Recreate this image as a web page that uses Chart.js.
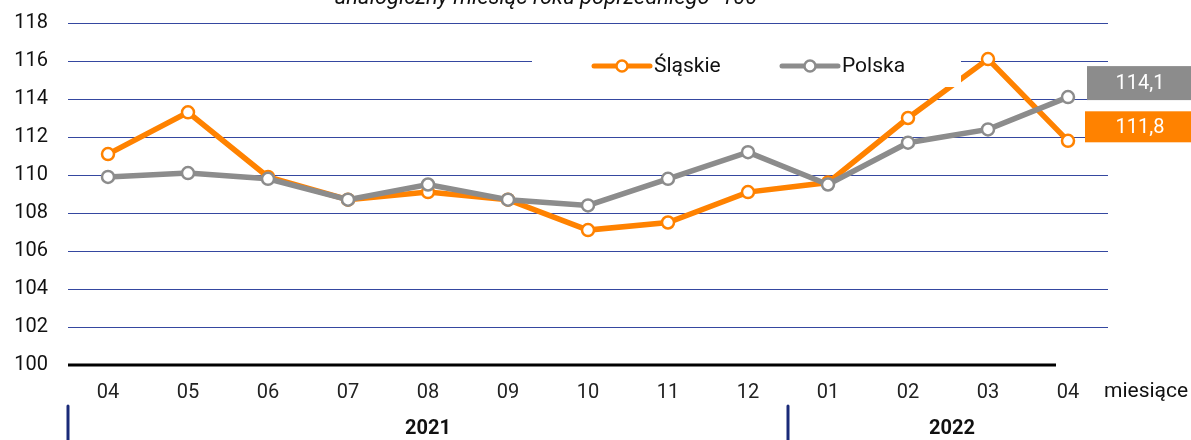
<!DOCTYPE html>
<html>
<head>
<meta charset="utf-8">
<script src="https://cdn.jsdelivr.net/npm/chart.js@4/dist/chart.umd.min.js"></script>
<style>
  html, body { margin: 0; padding: 0; background: #fff; }
  #wrap { width: 1191px; height: 440px; position: relative; }
</style>
</head>
<body>
<div id="wrap"><canvas id="c" width="1191" height="440"></canvas></div>
<script>
  'use strict';

  const months = ['04', '05', '06', '07', '08', '09', '10', '11', '12', '01', '02', '03', '04'];
  const years = [{ label: '2021', from: 0, to: 8 }, { label: '2022', from: 9, to: 12 }];
  const slaskie = [111.1, 113.3, 109.9, 108.7, 109.1, 108.7, 107.1, 107.5, 109.1, 109.6, 113.0, 116.1, 111.8];
  const polska = [109.9, 110.1, 109.8, 108.7, 109.5, 108.7, 108.4, 109.8, 111.2, 109.5, 111.7, 112.4, 114.1];
  const yMin = 100, yMax = 118, yStep = 2;

  const ORANGE = '#ff8200';
  const GREY = '#8c8c8c';
  const GRID = '#3548a0';
  const FONT = 'Roboto, "Noto Sans", sans-serif';

  function fmt(v) { return v.toFixed(1).replace('.', ','); }

  // title, legend, year row, end labels
  const extras = {
    id: 'extras',
    afterDatasetsDraw(chart) {
      const ctx = chart.ctx;
      const x = chart.scales.x, y = chart.scales.y;
      ctx.save();

      // base line at 100
      ctx.strokeStyle = '#000';
      ctx.lineWidth = 3;
      ctx.beginPath();
      ctx.moveTo(chart.chartArea.left, y.getPixelForValue(yMin));
      ctx.lineTo(x.getPixelForValue(12) - 12, y.getPixelForValue(yMin));
      ctx.stroke();

      // title (cut at top)
      ctx.fillStyle = '#111';
      ctx.font = 'italic 22px ' + FONT;
      ctx.textAlign = 'center';
      ctx.textBaseline = 'alphabetic';
      ctx.fillText('analogiczny miesiąc roku poprzedniego=100', 546, 4);

      // legend box
      ctx.fillStyle = '#fff';
      ctx.fillRect(532, 40, 429, 47);
      const items = [{ label: 'Śląskie', c: ORANGE, x: 594 }, { label: 'Polska', c: GREY, x: 782 }];
      items.forEach(it => {
        const ly = 66;
        ctx.strokeStyle = it.c;
        ctx.lineWidth = 5;
        ctx.lineCap = 'round';
        ctx.beginPath();
        ctx.moveTo(it.x, ly);
        ctx.lineTo(it.x + 56, ly);
        ctx.stroke();
        ctx.beginPath();
        ctx.arc(it.x + 28, ly, 5.5, 0, Math.PI * 2);
        ctx.fillStyle = '#fff';
        ctx.fill();
        ctx.lineWidth = 2.5;
        ctx.stroke();
        ctx.fillStyle = '#111';
        ctx.font = '21px ' + FONT;
        ctx.textAlign = 'left';
        ctx.textBaseline = 'middle';
        ctx.fillText(it.label, it.x + 60, ly + 1);
      });

      // end value labels
      const last = months.length - 1;
      [{ v: polska[last], c: GREY, x0: 1087, h: 34 }, { v: slaskie[last], c: ORANGE, x0: 1085, h: 31 }].forEach(b => {
        const cy = y.getPixelForValue(b.v) - 14;
        ctx.fillStyle = b.c;
        ctx.fillRect(b.x0, cy - b.h / 2, 1191 - b.x0, b.h);
        ctx.fillStyle = '#fff';
        ctx.font = '20px ' + FONT;
        ctx.textAlign = 'center';
        ctx.textBaseline = 'middle';
        ctx.fillText(fmt(b.v), 1140, cy + 1);
      });

      // axis unit
      ctx.fillStyle = '#111';
      ctx.font = '21px ' + FONT;
      ctx.textAlign = 'left';
      ctx.textBaseline = 'middle';
      ctx.fillText('miesiące', 1104, 392);

      // year row
      years.forEach(yr => {
        const left = x.getPixelForValue(yr.from) - 40;
        ctx.strokeStyle = '#1a2a78';
        ctx.lineWidth = 3;
        ctx.beginPath();
        ctx.moveTo(left, 406);
        ctx.lineTo(left, 440);
        ctx.stroke();
        ctx.fillStyle = '#111';
        ctx.font = 'bold 20px ' + FONT;
        ctx.textAlign = 'center';
        ctx.fillText(yr.label, yr.label === '2021' ? 428 : 952, 429);
      });
      ctx.restore();
    }
  };

  function lineSet(label, data, color, order) {
    return {
      label, data, order,
      borderColor: color,
      borderWidth: 5.5,
      pointRadius: 6,
      pointBorderWidth: 2.5,
      pointBackgroundColor: '#fff',
      pointBorderColor: color,
      tension: 0
    };
  }

  new Chart(document.getElementById('c'), {
    type: 'line',
    data: {
      labels: months,
      datasets: [lineSet('Śląskie', slaskie, ORANGE, 1), lineSet('Polska', polska, GREY, 0)]
    },
    options: {
      responsive: false,
      animation: false,
      layout: { padding: { top: 23, right: 83, left: 0, bottom: 0 } },
      plugins: { legend: { display: false }, tooltip: { enabled: false }, title: { display: false } },
      scales: {
        x: {
          offset: true,
          grid: { display: false, drawTicks: false },
          border: { display: false },
          ticks: { color: '#222', font: { family: FONT, size: 20 }, padding: 16, maxRotation: 0 },
          afterFit(s) { s.height = 75; s.paddingLeft = 0; s.paddingRight = 0; }
        },
        y: {
          min: yMin, max: yMax,
          grid: {
            drawTicks: false,
            color: ctx => (ctx.tick && ctx.tick.value === yMin ? 'rgba(0,0,0,0)' : GRID),
            lineWidth: 1
          },
          border: { display: false },
          ticks: { stepSize: yStep, color: '#111', font: { family: FONT, size: 20 }, padding: 20 },
          afterFit(s) { s.width = 68; s.paddingTop = 0; s.paddingBottom = 0; }
        }
      }
    },
    plugins: [extras]
  });
</script>
</body>
</html>
